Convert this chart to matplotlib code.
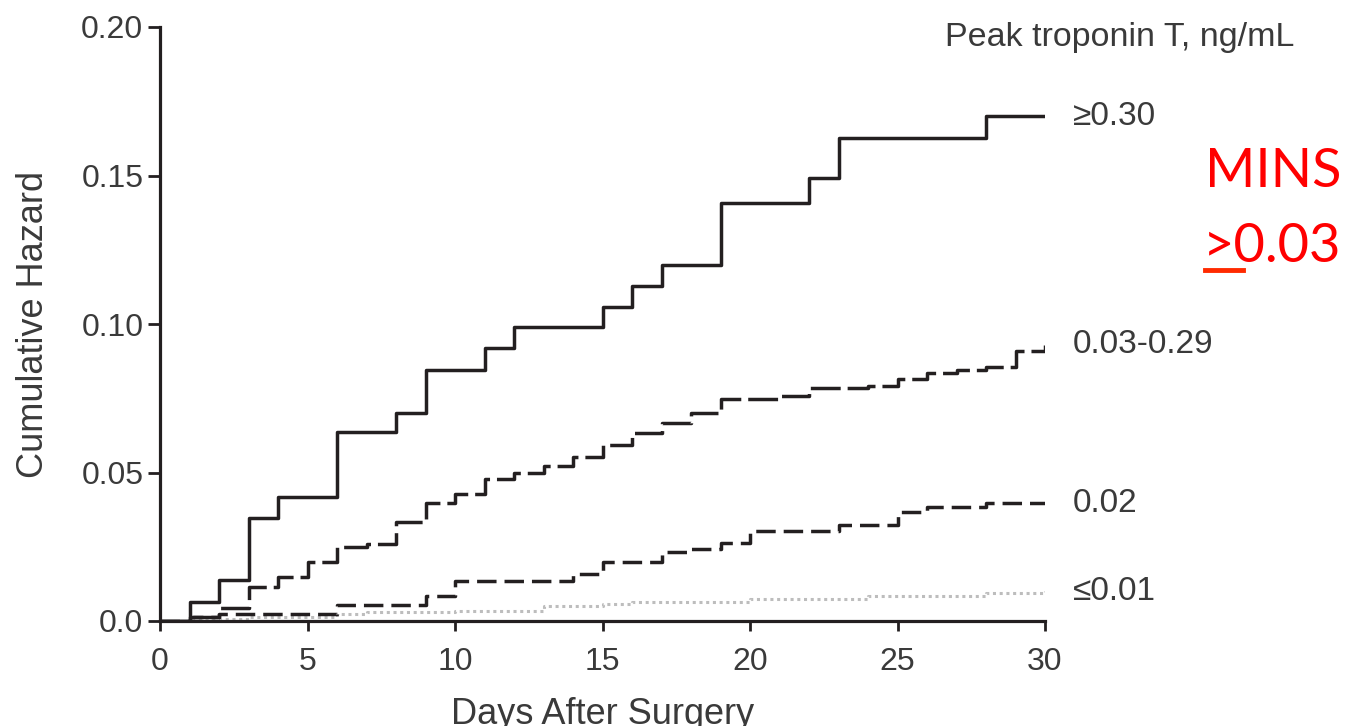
import numpy as np
from matplotlib import pyplot as plt
from matplotlib.lines import Line2D

# 누적 위험도 (step, post)
days_hi = [0, 1, 2, 3, 4, 6, 8, 9, 11, 12, 15, 16, 17, 19, 22, 23, 28, 30]
haz_hi = [0, 0.0065, 0.0138, 0.0347, 0.0418, 0.0636, 0.070, 0.0845, 0.0919, 0.099,
          0.1057, 0.1128, 0.120, 0.1407, 0.149, 0.1626, 0.170, 0.170]

days_mid = [0, 1, 2, 3, 4, 5, 6, 7, 8, 9, 10, 11, 12, 13, 14, 15, 16, 17, 18, 19,
            21, 22, 24, 25, 26, 27, 28, 29, 30]
haz_mid = [0, 0.0012, 0.0044, 0.0115, 0.0148, 0.0199, 0.0250, 0.026, 0.0333, 0.0397,
           0.0428, 0.0478, 0.0499, 0.0522, 0.0553, 0.0592, 0.0633, 0.0667, 0.070, 0.0748,
           0.0758, 0.0784, 0.0792, 0.0814, 0.0834, 0.0845, 0.0855, 0.0909, 0.093]

days_002 = [0, 1, 2, 6, 9, 10, 14, 15, 17, 18, 19, 20, 23, 25, 26, 28, 30]
haz_002 = [0, 0.0012, 0.0024, 0.0054, 0.0084, 0.0135, 0.0158, 0.0199, 0.0232, 0.0242,
           0.0262, 0.0303, 0.0323, 0.0367, 0.0384, 0.0397, 0.0397]

days_low = [0, 1, 3, 6, 7, 10, 13, 15, 16, 20, 24, 28, 30]
haz_low = [0, 0.0008, 0.0013, 0.0024, 0.003, 0.0034, 0.005, 0.0057, 0.0063, 0.0074,
           0.0084, 0.0094, 0.0100]

labels = ['\u22650.30', '0.03-0.29', '0.02', '\u22640.01']

plt.rcParams['font.family'] = ['Liberation Sans', 'DejaVu Sans']
txt = '#3a3a3a'
ink = '#231f20'

fig = plt.figure(figsize=(13.52, 7.26), dpi=100)
ax = fig.add_axes([160/1352, 1-621/726, 885/1352, 594/726])

lw = 2.5
ax.step(days_low, haz_low, where='post', color='#bdbdbd', lw=2.2, ls=(0, (1, 1.2)))
ax.step(days_002, haz_002, where='post', color=ink, lw=lw, ls=(0, (5.6, 2.3)))
ax.step(days_mid, haz_mid, where='post', color=ink, lw=lw, ls=(0, (8.6, 2.0)))
ax.step(days_hi, haz_hi, where='post', color=ink, lw=lw)

# 곡선 끝 라벨
ends = [haz_hi[-1], haz_mid[-1], haz_002[-1], haz_low[-1]]
for lab, yv in zip(labels, ends):
    ax.text(30.95, yv, lab, fontsize=24, color=txt, va='center', ha='left', clip_on=False)
ax.text(26.6, 0.1966, 'Peak troponin T, ng/mL', fontsize=24.5, color=txt,
        va='center', ha='left', clip_on=False)

ax.set_xlim(0, 30)
ax.set_ylim(0, 0.20)
ax.set_xticks([0, 5, 10, 15, 20, 25, 30])
ax.set_yticks([0, 0.05, 0.10, 0.15, 0.20])
ax.set_yticklabels(['0.0', '0.05', '0.10', '0.15', '0.20'])
for s in ['top', 'right']:
    ax.spines[s].set_visible(False)
for s in ['left', 'bottom']:
    ax.spines[s].set_linewidth(2.3)
    ax.spines[s].set_color(ink)
ax.tick_params(axis='x', length=7, width=2, color=ink, pad=12, labelsize=23, labelcolor=txt)
ax.tick_params(axis='y', length=9, width=2, color=ink, pad=3, labelsize=23, labelcolor=txt)
ax.set_xlabel('Days After Surgery', fontsize=26, color=txt, labelpad=14)
ax.set_ylabel('Cumulative Hazard', fontsize=26, color=txt, labelpad=22)

# 빨간 주석
fig.text(1205/1352, 1-187/726, 'MINS', fontsize=39, color='#ff0000', family='Lato',
         ha='left', va='baseline')
fig.text(1203/1352, 1-262/726, '>0.03', fontsize=39, color='#ff0000', family='Lato',
         ha='left', va='baseline')
fig.add_artist(Line2D([1205/1352, 1243/1352], [1-270/726, 1-270/726],
                      transform=fig.transFigure, color='#ff2a00', lw=3.5))

fig.savefig('out.png', dpi=100)
